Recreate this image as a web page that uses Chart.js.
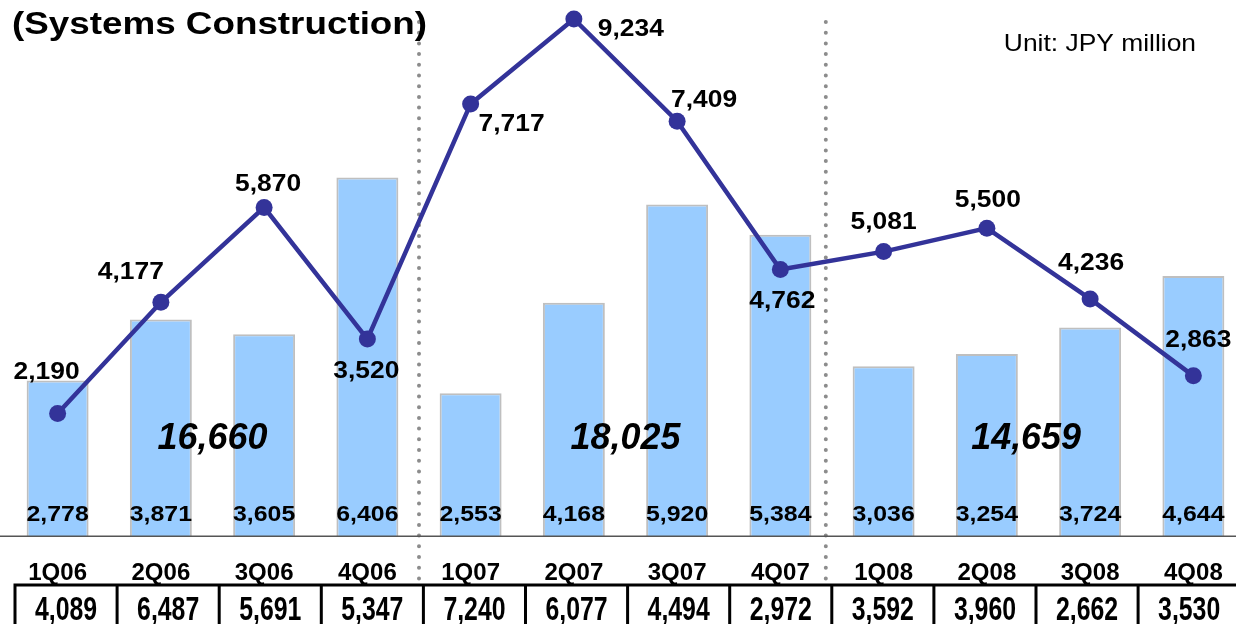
<!DOCTYPE html>
<html>
<head>
<meta charset="utf-8">
<script src="https://cdn.jsdelivr.net/npm/chart.js@4.4.1/dist/chart.umd.min.js"></script>
<style>
  html, body { margin: 0; padding: 0; background: #fff; overflow: hidden; }
  #wrap { width: 1246px; height: 624px; }
</style>
</head>
<body>
<div id="wrap"><canvas id="chart" width="1246" height="624"></canvas></div>
<script>
// quarters
const categories = ['1Q06', '2Q06', '3Q06', '4Q06', '1Q07', '2Q07', '3Q07', '4Q07', '1Q08', '2Q08', '3Q08', '4Q08'];
// bars (light blue)
const barValues = [2778, 3871, 3605, 6406, 2553, 4168, 5920, 5384, 3036, 3254, 3724, 4644];
// line (dark blue)
const lineValues = [2190, 4177, 5870, 3520, 7717, 9234, 7409, 4762, 5081, 5500, 4236, 2863];
// row of the table under the axis
const tableValues = [4089, 6487, 5691, 5347, 7240, 6077, 4494, 2972, 3592, 3960, 2662, 3530];
// yearly totals
const periodTotals = [16660, 18025, 14659];

const FONT = '"Liberation Sans", Arial, sans-serif';

// where the line labels sit relative to their point (px)
const lineLabelOffset = [
  [-11, -41], [-30, -30], [4, -23], [-1, 32], [41, 20], [57, 10],
  [27, -21], [2, 32], [0, -29], [1, -28], [1, -36], [5, -35]
];
// category index used to place the yearly totals and the dotted separators
const periodCenterIdx = [1.5, 5.5, 9.38];
const separatorIdx = [3.5, 7.44];

function fmt(v) {
  return v.toLocaleString('en-US');
}

function drawText(ctx, text, x, y, font, sx, align) {
  ctx.save();
  ctx.translate(x, y);
  ctx.scale(sx, 1);
  ctx.font = font;
  ctx.textAlign = align || 'center';
  ctx.textBaseline = 'middle';
  ctx.fillStyle = '#000';
  ctx.fillText(text, 0, 0);
  ctx.restore();
}

const overlay = {
  id: 'overlay',
  beforeDatasetsDraw(chart) {
    const ctx = chart.ctx;
    const x = chart.scales.x;
    // dotted separators between years
    ctx.save();
    ctx.strokeStyle = '#8c8c8c';
    ctx.lineWidth = 4;
    ctx.lineCap = 'round';
    ctx.setLineDash([0, 10.7]);
    separatorIdx.forEach(function (i) {
      const px = x.getPixelForValue(i);
      ctx.beginPath();
      ctx.moveTo(px, 22);
      ctx.lineTo(px, 582);
      ctx.stroke();
    });
    ctx.restore();
  },
  afterDatasetsDraw(chart) {
    const ctx = chart.ctx;
    const x = chart.scales.x;
    const y = chart.scales.y;
    const lineMeta = chart.getDatasetMeta(0);
    const barMeta = chart.getDatasetMeta(1);

    // bar values at the foot of each bar
    barMeta.data.forEach(function (bar, i) {
      drawText(ctx, fmt(barValues[i]), bar.x, y.getPixelForValue(0) - 21,
        'bold 22px ' + FONT, 1.13);
    });

    // yearly totals
    periodTotals.forEach(function (t, i) {
      drawText(ctx, fmt(t), x.getPixelForValue(periodCenterIdx[i]), 439,
        'italic bold 37px ' + FONT, 0.97);
    });

    // line values
    lineMeta.data.forEach(function (pt, i) {
      const o = lineLabelOffset[i];
      drawText(ctx, fmt(lineValues[i]), pt.x + o[0], pt.y + o[1],
        'bold 24px ' + FONT, 1.1);
    });
  },
  afterDraw(chart) {
    const ctx = chart.ctx;
    const y = chart.scales.y;
    const base = y.getPixelForValue(0);

    // baseline across the whole width
    ctx.save();
    ctx.strokeStyle = '#555';
    ctx.lineWidth = 1.5;
    ctx.beginPath();
    ctx.moveTo(0, base);
    ctx.lineTo(chart.width, base);
    ctx.stroke();
    ctx.restore();

    // title and unit
    drawText(ctx, '(Systems Construction)', 12, 25, 'bold 32px ' + FONT, 1.15, 'left');
    drawText(ctx, 'Unit: JPY million', 1196, 44, '24px ' + FONT, 1.1, 'right');

    // table row
    const left = 15, cellW = 102.1, top = 585;
    ctx.save();
    ctx.strokeStyle = '#000';
    ctx.lineWidth = 3;
    ctx.beginPath();
    ctx.moveTo(left - 1.5, top);
    ctx.lineTo(chart.width, top);
    for (let k = 0; k <= tableValues.length; k++) {
      ctx.moveTo(left + cellW * k, top);
      ctx.lineTo(left + cellW * k, chart.height);
    }
    ctx.stroke();
    ctx.restore();
    tableValues.forEach(function (v, k) {
      drawText(ctx, fmt(v), left + cellW * (k + 0.5), 611, 'bold 34px ' + FONT, 0.73);
    });
  }
};

const ctx = document.getElementById('chart').getContext('2d');
new Chart(ctx, {
  data: {
    labels: categories,
    datasets: [
      {
        type: 'line',
        data: lineValues,
        order: 0,
        borderColor: '#333399',
        borderWidth: 4.5,
        pointRadius: 8.5,
        pointBackgroundColor: '#333399',
        pointBorderColor: '#333399',
        pointBorderWidth: 0,
        tension: 0,
        clip: false
      },
      {
        type: 'bar',
        data: barValues,
        order: 1,
        backgroundColor: '#99ccff',
        borderColor: '#bfbfbf',
        borderWidth: 2,
        borderSkipped: 'bottom',
        categoryPercentage: 1,
        barPercentage: 0.6
      }
    ]
  },
  options: {
    responsive: false,
    animation: false,
    devicePixelRatio: 1,
    layout: { autoPadding: false, padding: { left: 6, right: 1, top: 0, bottom: 13 } },
    plugins: {
      legend: { display: false },
      tooltip: { enabled: false }
    },
    scales: {
      x: {
        grid: { display: false, drawTicks: false },
        border: { display: false },
        ticks: {
          padding: 23,
          color: '#000',
          maxRotation: 0,
          autoSkip: false,
          font: { family: FONT, size: 24, weight: 'bold' }
        }
      },
      y: {
        display: false,
        min: 0,
        max: 9573
      }
    }
  },
  plugins: [overlay]
});
</script>
</body>
</html>
